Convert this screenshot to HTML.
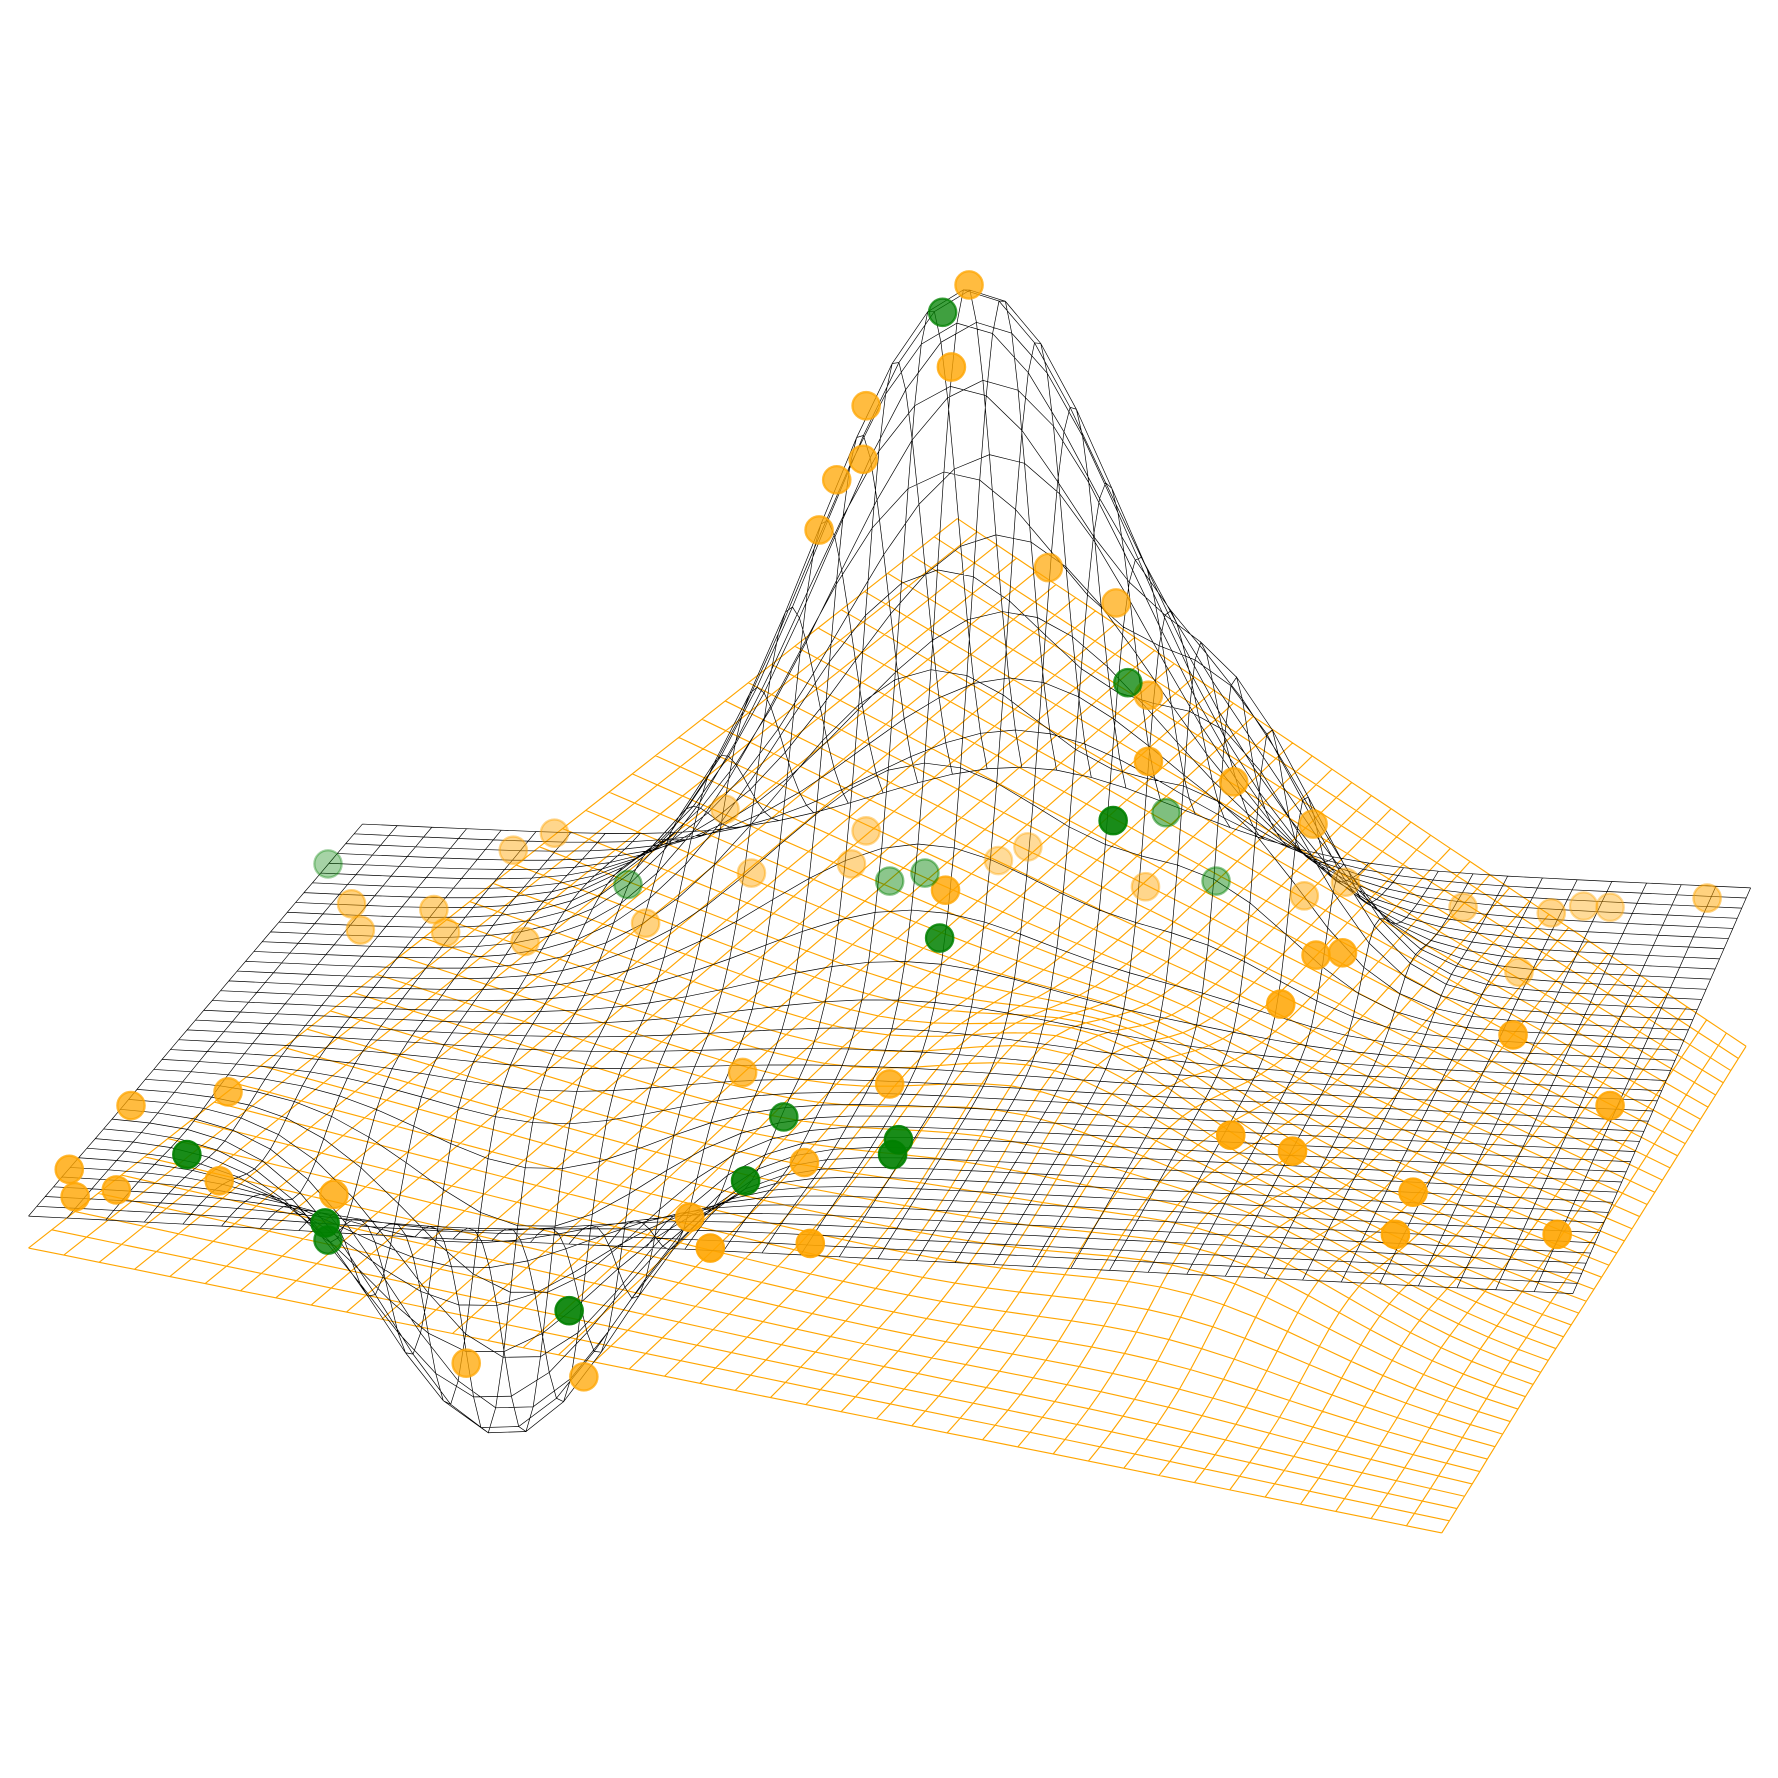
<!DOCTYPE html>
<html><head><meta charset="utf-8"><title>3D wireframe surfaces</title>
<style>html,body{margin:0;padding:0;background:#fff}svg{display:block}</style></head>
<body>
<svg id="chart" width="1778" height="1778" viewBox="0 0 1560 1560" xmlns="http://www.w3.org/2000/svg">
<g id="orangeSurf" fill="none" stroke="#FFA500" stroke-width="1"></g>
<g id="blackSurf" fill="none" stroke="#000" stroke-width="0.6"></g>
<g id="dots"></g>
</svg>
<script>
// ---- black surface parameters (gaussian bumps on a flat plane) ----
const blackBumpU = [0.48, 0.68, 0.26];
const blackBumpV = [0.22, 0.30, 0.75];
const blackBumpAmp = [575, 175, -262];
const blackBumpSpread = [0.024, 0.007, 0.012];
// ---- orange surface parameters ----
const orangeTiltAmp = [345];
const orangeBumpU = [0.55, 0.75];
const orangeBumpV = [0.45, 0.30];
const orangeBumpAmp = [70, 50];
// ---- scatter data: x position, height, opacity ----
const orangeX = [0.28,0.22,-0.07,-0.08,-0.17,-0.23,0.55,0.78,0.89,0.89,1.18,1.45,-0.55,-1.13,-1.27,-0.07,0.48,0.38,-0.12,-0.46,0.20,0.88,1.42,1.56,1.96,2.26,2.37,2.46,2.79,2.15,1.46,1.55,1.34,2.13,2.46,-1.82,-1.79,-1.54,-1.50,-1.23,-0.82,-2.24,-2.57,-2.78,-2.76,-2.62,-2.27,-1.88,-0.49,0.01,-0.28,1.17,1.38,1.79,1.73,2.28,-0.67,-0.60,-0.26,-1.43,-1.03];
const orangeH = [7.48,6.76,6.42,5.95,5.77,5.33,5.00,4.69,3.88,3.30,3.12,2.75,2.88,2.67,2.52,2.69,2.55,2.43,2.40,2.32,2.17,2.20,2.12,2.24,2.02,1.97,2.03,2.02,2.10,1.45,1.60,1.62,1.17,0.90,0.28,2.05,1.82,2.00,1.80,1.72,1.88,0.40,0.28,-0.28,-0.52,-0.46,-0.38,-0.50,0.57,0.47,-0.22,0.02,-0.12,-0.48,-0.85,-0.85,-0.70,-0.97,-0.93,-1.98,-2.10];
const orangeOp = [.75,.8,.75,.75,.75,.75,.7,.7,.7,.8,.75,.7,.45,.45,.45,.45,.4,.4,.45,.45,.8,.45,.5,.45,.45,.45,.4,.4,.5,.45,.8,.8,.85,.85,.85,.5,.5,.5,.5,.5,.5,.75,.75,.8,.8,.8,.8,.8,.7,.8,.8,.9,.9,.9,.9,.9,.85,.9,.9,.75,.75];
const greenX = [0.19,0.82,0.77,0.95,1.12,0.01,0.13,-0.88,-1.90,0.18,-0.35,0.04,0.02,-0.48,-2.38,-1.91,-1.90,-1.08];
const greenH = [7.24,3.99,2.78,2.85,2.25,2.25,2.32,2.22,2.40,1.75,0.18,-0.02,-0.15,-0.38,-0.15,-0.75,-0.90,-1.52];
const greenOp = [.75,.75,.9,.5,.45,.45,.45,.45,.35,.85,.8,.9,.9,.9,.9,.9,.8,.9];

const NS='http://www.w3.org/2000/svg';
function bil(c,u,v){
  const x=(1-u)*(1-v)*c[0][0]+u*(1-v)*c[1][0]+u*v*c[2][0]+(1-u)*v*c[3][0];
  const y=(1-u)*(1-v)*c[0][1]+u*(1-v)*c[1][1]+u*v*c[2][1]+(1-u)*v*c[3][1];
  return [x,y];
}
const blackCorners=[[318,723],[1536,779],[1380,1135],[25,1067]];
function blackZ(u,v){let z=0;for(let i=0;i<blackBumpU.length;i++){const r=(u-blackBumpU[i])**2+(v-blackBumpV[i])**2;z+=blackBumpAmp[i]*Math.exp(-r/blackBumpSpread[i]);}return z;}
const orangeCorners=[[25,1095],[1265,1345],[1532,918],[840,800]];
function orangeZ(u,v){let z=orangeTiltAmp[0]*(1-u)*v;
  for(let i=0;i<orangeBumpU.length;i++){const r=(u-orangeBumpU[i])**2+(v-orangeBumpV[i])**2;z+=orangeBumpAmp[i]*Math.exp(-r/0.02);}return z;}
function drawSurface(g,corners,zf,N,name){
  const P=[];for(let i=0;i<=N;i++){P.push([]);for(let j=0;j<=N;j++){const u=i/N,v=j/N;const b=bil(corners,u,v);P[i].push([b[0],b[1]-zf(u,v)]);}}
  let d='';
  for(let i=0;i<=N;i++){d+='M'+P[i].map(p=>p[0].toFixed(1)+' '+p[1].toFixed(1)).join('L');}
  for(let j=0;j<=N;j++){d+='M';for(let i=0;i<=N;i++){d+=(i?'L':'')+P[i][j][0].toFixed(1)+' '+P[i][j][1].toFixed(1);}}
  const p=document.createElementNS(NS,'path');p.setAttribute('d',d);
  
  
  g.appendChild(p);
}
drawSurface(document.getElementById('orangeSurf'),orangeCorners,orangeZ,40,'orange-grid-lines');
drawSurface(document.getElementById('blackSurf'),blackCorners,blackZ,40,'black-grid-lines');
function px(x){return 778+x*258;} function py(h){return 998-h*100;}
const dg=document.getElementById('dots');
function dot(x,h,op,col,nm){const c=document.createElementNS(NS,'circle');
  c.setAttribute('cx',px(x));c.setAttribute('cy',py(h));c.setAttribute('r',12);
  c.setAttribute('fill',col);c.setAttribute('fill-opacity',op);c.setAttribute('stroke',col);c.setAttribute('stroke-opacity',op);c.setAttribute('stroke-width',2);
  
  
  dg.appendChild(c);}
for(let i=0;i<orangeX.length;i++)dot(orangeX[i],orangeH[i],orangeOp[i],'#FFA500','orange-point');
for(let i=0;i<greenX.length;i++)dot(greenX[i],greenH[i],greenOp[i],'#008000','green-point');
</script>
</body></html>
